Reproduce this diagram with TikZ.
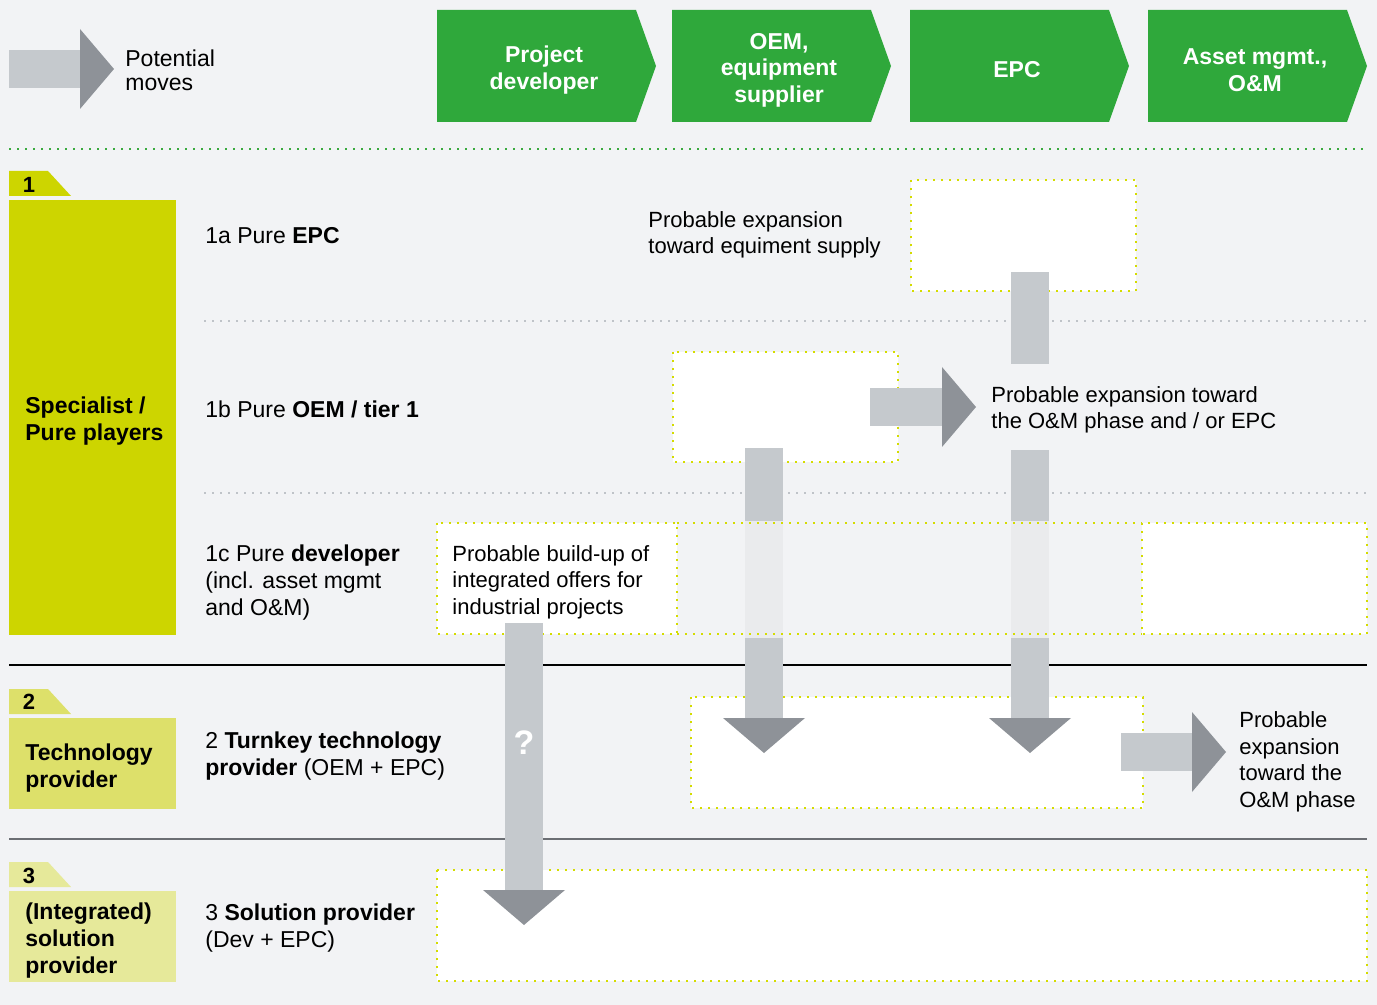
\documentclass[tikz,border=0pt]{standalone}
\usepackage{fontspec}
\setmainfont{Liberation Sans}
\usetikzlibrary{positioning}
\definecolor{canvas}{HTML}{F2F3F5}
\definecolor{stagegreen}{HTML}{2FA83B}
\definecolor{groupone}{HTML}{CDD500}
\definecolor{grouptwo}{HTML}{DDE06A}
\definecolor{groupthree}{HTML}{E6E99A}
\definecolor{dotyellow}{HTML}{D4DC00}
\definecolor{dotgreen}{HTML}{3AAA3E}
\definecolor{sepgray}{HTML}{BFC3C8}
\definecolor{shaftgray}{HTML}{C5C9CD}
\definecolor{headgray}{HTML}{8E9298}
\definecolor{paleshaft}{HTML}{EAEBED}
\definecolor{rulegray}{HTML}{6B6E73}
\tikzset{
  base/.style={inner sep=0pt,anchor=west,align=left},
  rowtext/.style={base,font=\fontsize{11.5}{13.5}\selectfont},
  note/.style={base,font=\fontsize{11}{13.3}\selectfont},
  grouptext/.style={base,font=\fontsize{11.5}{13.5}\selectfont\bfseries},
  stagelabel/.style={inner sep=0pt,align=center,text=white,
    font=\fontsize{11.5}{13.3}\selectfont\bfseries},
  tabnum/.style={inner sep=0pt,font=\fontsize{11}{13}\selectfont\bfseries},
  candidate/.style={draw=dotyellow,line width=1pt,dash pattern=on 1pt off 3pt},
  rowsep/.style={draw=sepgray,line width=1pt,dash pattern=on 1pt off 3pt},
  shaft/.style={fill=shaftgray},
  head/.style={fill=headgray}
}
% block arrows: start, centre line, head base
\newcommand{\rightmove}[3]{%
  \fill[shaft] (#1,#2-19) rectangle (#3,#2+19);
  \fill[head] (#3,#2-40) -- (#3+34,#2) -- (#3,#2+40) -- cycle;}
\newcommand{\downmove}[3]{%
  \fill[shaft] (#1-19,#2) rectangle (#1+19,#3);
  \fill[head] (#1-41,#3) -- (#1+41,#3) -- (#1,#3+35) -- cycle;}
% value chain steps
\newcommand{\stagebox}[3]{%
  \fill[stagegreen] (#1,10) -- (#1+199,10) -- (#1+219,66) -- (#1+199,122)
    -- (#1,122) -- cycle;
  \node[stagelabel] (#2) at (#1+107,70) {#3};}

\begin{document}
\begin{tikzpicture}[x=0.5pt,y=-0.5pt]
  \useasboundingbox (0,0) rectangle (1377,1005);
  \fill[canvas] (0,0) rectangle (1377,1005);

  % rules
  \draw[dotgreen,line width=1pt,dash pattern=on 1pt off 3pt] (9,149) -- (1367,149);
  \draw[rowsep] (204,321) -- (1367,321);
  \draw[rowsep] (204,493) -- (1367,493);
  \draw[line width=1.2pt] (9,665) -- (1367,665);
  \draw[rulegray,line width=1.2pt] (9,839) -- (1367,839);

  % legend
  \rightmove{9}{69}{80}
  \node[rowtext,font=\fontsize{11.5}{12}\selectfont] (legend) at (125,70) {Potential\\moves};

  % header
  \stagebox{437}{dev}{Project\\developer}
  \stagebox{672}{oem}{OEM,\\equipment\\supplier}
  \stagebox{910}{epc}{EPC}
  \stagebox{1148}{om}{Asset mgmt.,\\O\&M}

  % groups
  \fill[groupone] (9,171) -- (48,171) -- (71,196) -- (9,196) -- cycle;
  \fill[groupone] (9,200) rectangle (176,635);
  \fill[grouptwo] (9,689) -- (48,689) -- (71,714) -- (9,714) -- cycle;
  \fill[grouptwo] (9,718) rectangle (176,809);
  \fill[groupthree] (9,862) -- (48,862) -- (71,887) -- (9,887) -- cycle;
  \fill[groupthree] (9,891) rectangle (176,982);
  \node[tabnum] (tab1) at (29,185) {1};
  \node[tabnum] (tab2) at (29,702) {2};
  \node[tabnum] (tab3) at (29,876) {3};
  \node[grouptext] (pure) at (25,421) {Specialist /\\Pure players};
  \node[grouptext] (tech) at (25,768) {Technology\\provider};
  \node[grouptext] (sol) at (25,941) {(Integrated)\\solution\\provider};

  % dotted boxes
  \filldraw[candidate,fill=white] (911,180) rectangle (1136,291);
  \filldraw[candidate,fill=white] (673,352) rectangle (898,462);
  \filldraw[candidate,fill=white] (437,523) rectangle (677,634);
  \filldraw[candidate,fill=white] (1142,523) rectangle (1367,634);
  \filldraw[candidate,fill=white] (691,697) rectangle (1143,808);
  \filldraw[candidate,fill=white] (437,870) rectangle (1367,981);

  % moves
  \fill[shaft] (1011,272) rectangle (1049,364);
  \rightmove{870}{407}{942}
  \downmove{764}{448}{718}
  \downmove{1030}{450}{718}
  \downmove{524}{623}{890}
  \rightmove{1121}{752}{1192}
  \fill[paleshaft] (745,521) rectangle (783,638);
  \fill[paleshaft] (1011,521) rectangle (1049,638);
  \draw[candidate] (677,523) -- (1142,523);
  \draw[candidate] (677,634) -- (1142,634);
  \node[inner sep=0pt,text=white,font=\fontsize{17}{17}\selectfont\bfseries]
    (qmark) at (524,743) {?};

  % rows
  \node[rowtext] (rowa) at (205,236) {1a Pure \textbf{EPC}};
  \node[rowtext] (rowb) at (205,409) {1b Pure \textbf{OEM / tier 1}};
  \node[rowtext] (rowc) at (205,583) {1c Pure \textbf{developer}\\(incl. asset mgmt\\and O\&M)};
  \node[rowtext] (rowtwo) at (205,756) {2 \textbf{Turnkey technology}\\\textbf{provider} (OEM + EPC)};
  \node[rowtext] (rowthree) at (205,928) {3 \textbf{Solution provider}\\(Dev + EPC)};

  % notes
  \node[note] (noteepc) at (648,235) {Probable expansion\\toward equiment supply};
  \node[note] (noteoem) at (991,410) {Probable expansion toward\\the O\&M phase and / or EPC};
  \node[note] (notedev) at (452,582) {Probable build-up of\\integrated offers for\\industrial projects};
  \node[note] (noteturn) at (1239,762) {Probable\\expansion\\toward the\\O\&M phase};
\end{tikzpicture}
\end{document}
